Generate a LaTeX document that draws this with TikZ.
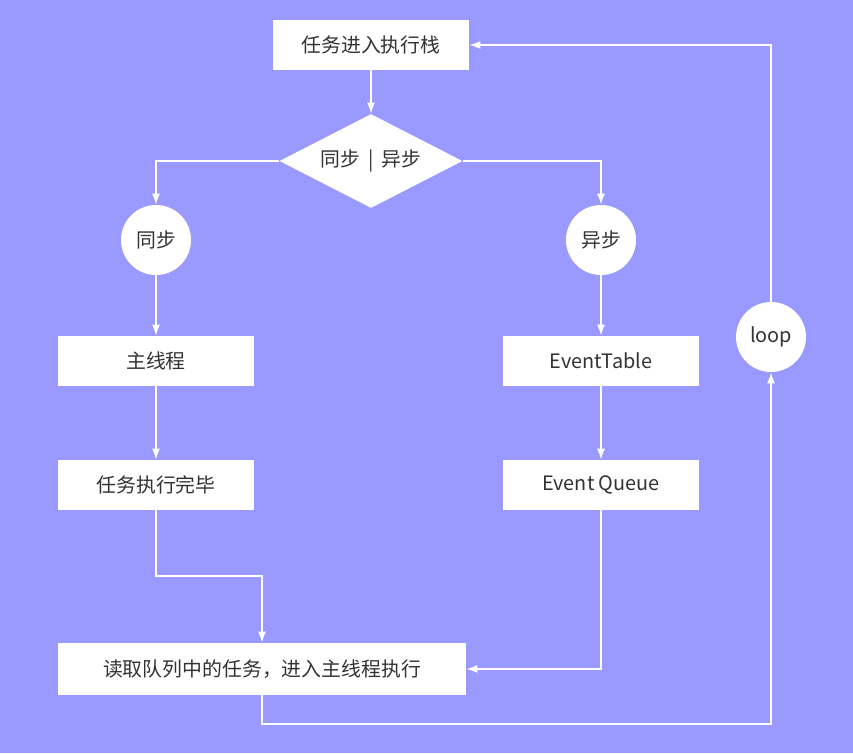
\documentclass[tikz,border=0pt]{standalone}
\usepackage{fontspec}
\setmainfont{Noto Sans CJK SC}
\usepackage{tikz}
\usetikzlibrary{shapes.geometric}
\usetikzlibrary{arrows.meta}
\usepackage{color}
\definecolor{bg}{RGB}{153,153,255}
\definecolor{ink}{RGB}{51,51,51}

\begin{document}
\begin{tikzpicture}
    \path[use as bounding box, fill=bg] (0.0, 0.0) rectangle (17.06, -15.06);

    \tikzset{ box/.style  ={fill=white, draw=none, minimum width=3.92cm, minimum height=1.0cm, text=ink, font=\fontsize{11.3pt}{13pt}\selectfont} }
    \tikzset{ rnd/.style  ={fill=white, draw=none, circle, minimum size=1.4cm, inner sep=0, text=ink, font=\fontsize{11.3pt}{13pt}\selectfont} }
    \tikzset{ ask/.style  ={fill=white, draw=none, diamond, aspect=1.95, minimum width=3.66cm, minimum height=1.88cm, inner sep=0, text=ink, font=\fontsize{11.3pt}{13pt}\selectfont} }
    \tikzset{ flow/.style ={draw=white, line width=0.85pt, ->, >={Latex[length=2.2mm,width=1.6mm]}} }

    \node[box] (task)   at (7.42,  -0.90) {任务进入执行栈};
    \node[ask] (choice) at (7.42,  -3.22) {同步 \,|\, 异步};
    \node[rnd] (sync)   at (3.12,  -4.80) {同步};
    \node[rnd] (async)  at (12.02, -4.80) {异步};
    \node[box] (main)   at (3.12,  -7.22) {主线程};
    \node[box] (etable) at (12.02, -7.22) {EventTable};
    \node[box] (done)   at (3.12,  -9.70) {任务执行完毕};
    \node[box] (equeue) at (12.02, -9.70) {Event Queue};
    \node[box, minimum width=8.16cm, minimum height=1.04cm] (read) at (5.24, -13.38) {读取队列中的任务，进入主线程执行};
    \node[rnd] (loop)   at (15.42, -6.74) {loop};

    \coordinate (bend1) at (5.24, -11.52);
    \coordinate (bend2) at (15.42, -14.48);

    \draw[flow] (task) -- (choice);
    \draw[flow] (choice.west) -| (sync.north);
    \draw[flow] (choice.east) -| (async.north);
    \draw[flow] (sync) -- (main);
    \draw[flow] (main) -- (done);
    \draw[flow] (async) -- (etable);
    \draw[flow] (etable) -- (equeue);
    \draw[flow] (done.south) |- (bend1) -- (read.north);
    \draw[flow] (equeue.south) |- (read.east);
    \draw[flow] (read.south) |- (bend2) -- (loop.south);
    \draw[flow] (loop.north) |- (task.east);

\end{tikzpicture}
\end{document}
